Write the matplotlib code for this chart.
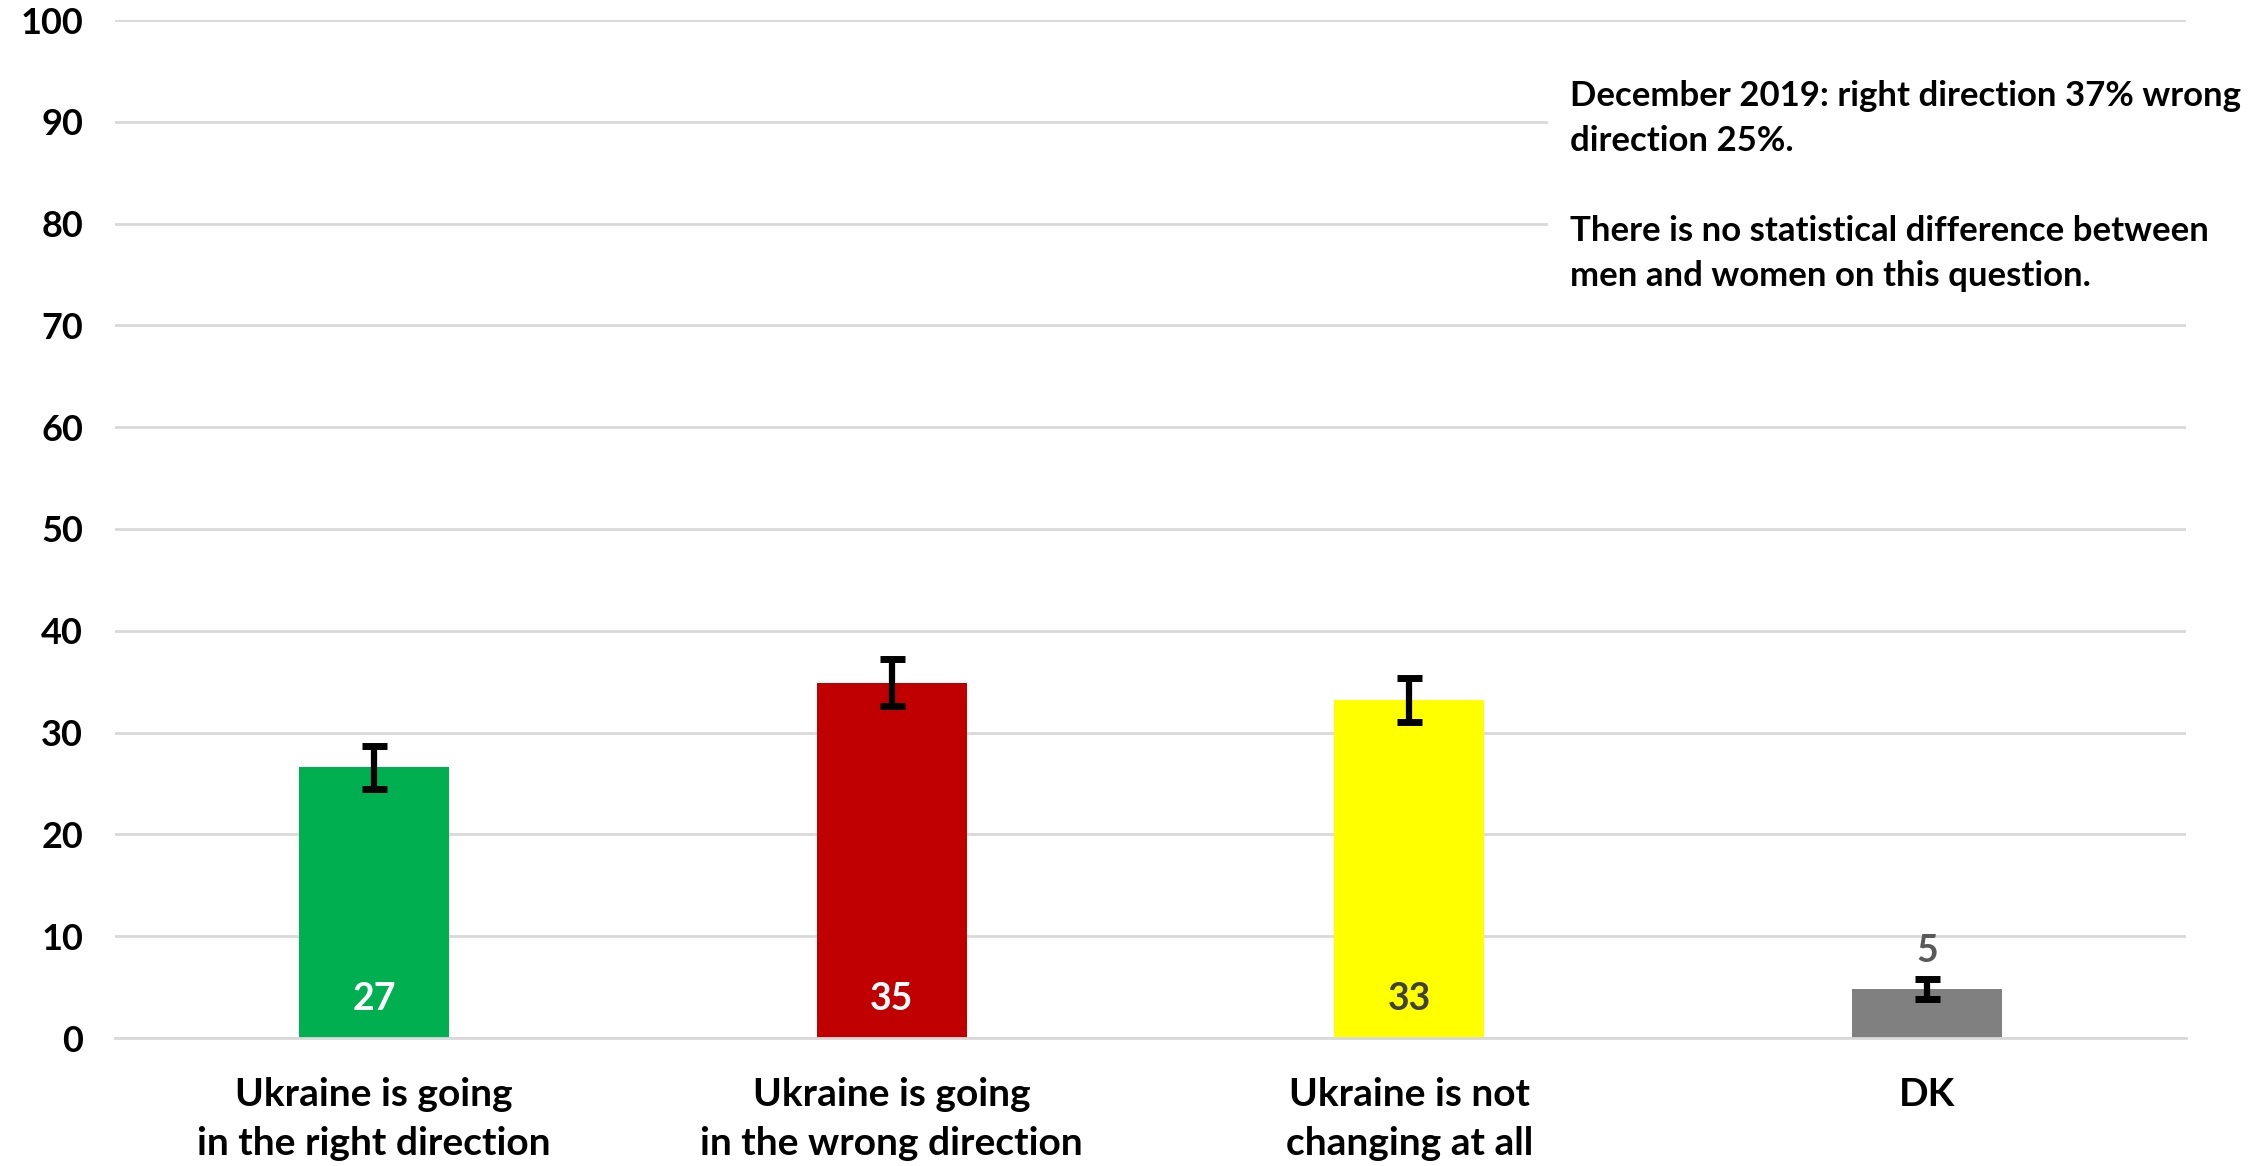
import matplotlib
matplotlib.use("Agg")
import matplotlib.pyplot as plt
from matplotlib.patches import Rectangle

plt.rcParams["font.family"] = ["Lato", "DejaVu Sans"]
plt.rcParams["font.weight"] = "bold"

categories = [
    "Ukraine is going\nin the right direction",
    "Ukraine is going\nin the wrong direction",
    "Ukraine is not\nchanging at all",
    "DK",
]
values = [26.6, 34.9, 33.2, 4.8]
labels = ["27", "35", "33", "5"]
errors = [2.1, 2.3, 2.2, 1.0]
colors = ["#00b050", "#c00000", "#ffff00", "#808080"]
label_colors = ["white", "white", "#404040", "#595959"]
yticks = list(range(0, 101, 10))

note = ("December 2019: right direction 37% wrong\ndirection 25%.\n\n"
        "There is no statistical difference between\nmen and women on this question.")

fig = plt.figure(figsize=(22.57, 11.66), dpi=100)
ax = fig.add_axes([115 / 2257, 1 - 1038 / 1166, 2071 / 2257, 1018 / 1166])

x = list(range(len(categories)))
ax.bar(x, values, width=0.29, color=colors, zorder=2)
ax.errorbar(x, values, yerr=errors, fmt="none", ecolor="black",
            elinewidth=4.5, capsize=9, capthick=5, zorder=3)

for i, (v, lab, c) in enumerate(zip(values, labels, label_colors)):
    if v > 10:
        ax.text(i, 3.8, lab, ha="center", va="center", color=c,
                fontsize=27, fontweight="bold", zorder=4)
    else:
        ax.text(i, v + errors[i] + 2.7, lab, ha="center", va="center",
                color=c, fontsize=27, fontweight="bold", zorder=4)

ax.set_xlim(-0.5, 3.5)
ax.set_ylim(0, 100)
ax.set_yticks(yticks)
ax.set_xticks(x)
ax.set_xticklabels(categories, fontsize=28, fontweight="bold", linespacing=1.5)
ax.tick_params(axis="y", labelsize=26, length=0, pad=23)
ax.tick_params(axis="x", length=0, pad=28)
for t in ax.get_yticklabels():
    t.set_fontweight("bold")

ax.yaxis.grid(True, color="#d9d9d9", linewidth=2)
ax.set_axisbelow(True)
for s in ["top", "right", "left"]:
    ax.spines[s].set_visible(False)
ax.spines["bottom"].set_color("#d9d9d9")
ax.spines["bottom"].set_linewidth(2)

# white box behind the note hides the gridlines there
ax.add_patch(Rectangle((0.692, 0.72), 0.4, 0.22, transform=ax.transAxes,
                       facecolor="white", edgecolor="none", zorder=1,
                       clip_on=False))
fig.text(1570 / 2257, 1 - 80 / 1166, note, ha="left", va="top",
         fontsize=25, fontweight="bold", linespacing=1.5)

fig.savefig("out.png", dpi=100, facecolor="white")
